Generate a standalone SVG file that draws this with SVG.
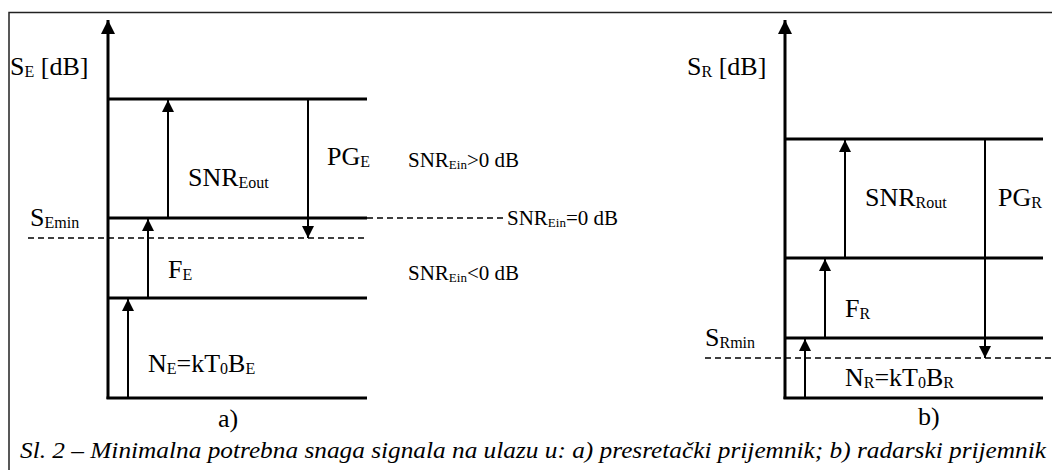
<svg xmlns="http://www.w3.org/2000/svg" width="1052" height="470" viewBox="0 0 1052 470">
<style>
.frame{stroke:#222;stroke-width:1.5;fill:none}
.axis{stroke:#000;stroke-width:3;fill:none}
.lvl{stroke:#000;stroke-width:3;fill:none}
.dash{stroke:#000;stroke-width:1.5;stroke-dasharray:6,4;fill:none}
.arr{stroke:#000;stroke-width:2;fill:none}
.big{font-size:26px}
.mid{font-size:21px}
.cap{font-size:23px;font-style:italic}
</style>
<defs>
<marker id="ah" markerUnits="userSpaceOnUse" markerWidth="12" markerHeight="14" refX="12" refY="6" orient="auto">
<path d="M0,0 L12,6 L0,12 Z" fill="#000"/>
</marker>
<marker id="axh" markerUnits="userSpaceOnUse" markerWidth="14" markerHeight="14" refX="14" refY="7" orient="auto">
<path d="M0,0 L14,7 L0,14 Z" fill="#000"/>
</marker>
</defs>
<rect width="1052" height="470" fill="#fff"/>
<path class="frame" d="M9,470 V12.5 H1052"/>
<g font-family="'Liberation Serif', 'Times New Roman', Tinos, serif" fill="#000">
<g id="panel-a">
<g id="axis-a"><line class="axis" x1="108" y1="399" x2="108" y2="20" marker-end="url(#axh)"/></g>
<g id="levels-a">
<line class="lvl" x1="108" y1="99" x2="367" y2="99"/>
<line class="lvl" x1="108" y1="218" x2="367" y2="218"/>
<line class="lvl" x1="108" y1="298" x2="367" y2="298"/>
<line class="lvl" x1="106.5" y1="398" x2="367" y2="398"/>
<line class="dash" x1="367" y1="218" x2="505" y2="218"/>
<line class="dash" x1="28" y1="238" x2="367" y2="238"/>
</g>
<g id="labels-a">
<text class="big" x="10" y="75">S<tspan font-size="16" dy="2">E</tspan><tspan dy="-2"> [dB]</tspan></text>
<text class="big" x="188" y="186">SNR<tspan font-size="16" dy="2">Eout</tspan></text>
<text class="big" x="327" y="165">PG<tspan font-size="16" dy="2">E</tspan></text>
<text class="big" x="30" y="226">S<tspan font-size="16" dy="2">Emin</tspan></text>
<text class="big" x="168" y="278">F<tspan font-size="16" dy="2">E</tspan></text>
<text class="big" x="148" y="372">N<tspan font-size="16" dy="2">E</tspan><tspan dy="-2">=kT</tspan><tspan font-size="16" dy="2">0</tspan><tspan dy="-2">B</tspan><tspan font-size="16" dy="2">E</tspan></text>
<text class="big" x="218" y="427">a)</text>
<text class="mid" x="408" y="167">SNR<tspan font-size="13" dy="2">Ein</tspan><tspan dy="-2">&gt;0 dB</tspan></text>
<text class="mid" x="507" y="225">SNR<tspan font-size="13" dy="2">Ein</tspan><tspan dy="-2">=0 dB</tspan></text>
<text class="mid" x="408" y="280">SNR<tspan font-size="13" dy="2">Ein</tspan><tspan dy="-2">&lt;0 dB</tspan></text>
</g>
</g>

<g id="panel-b">
<g id="axis-b"><line class="axis" x1="785" y1="399" x2="785" y2="20" marker-end="url(#axh)"/></g>
<g id="levels-b">
<line class="lvl" x1="785" y1="139" x2="1043" y2="139"/>
<line class="lvl" x1="785" y1="258" x2="1043" y2="258"/>
<line class="lvl" x1="785" y1="338" x2="1043" y2="338"/>
<line class="lvl" x1="783.5" y1="398" x2="1043" y2="398"/>
<line class="dash" x1="705" y1="358" x2="1052" y2="358"/>
</g>
<g id="labels-b">
<text class="big" x="687" y="75">S<tspan font-size="16" dy="2">R</tspan><tspan dy="-2"> [dB]</tspan></text>
<text class="big" x="865" y="206">SNR<tspan font-size="16" dy="2">Rout</tspan></text>
<text class="big" x="998" y="206">PG<tspan font-size="16" dy="2">R</tspan></text>
<text class="big" x="845" y="317">F<tspan font-size="16" dy="2">R</tspan></text>
<text class="big" x="705" y="346">S<tspan font-size="16" dy="2">Rmin</tspan></text>
<text class="big" x="845" y="386">N<tspan font-size="16" dy="2">R</tspan><tspan dy="-2">=kT</tspan><tspan font-size="16" dy="2">0</tspan><tspan dy="-2">B</tspan><tspan font-size="16" dy="2">R</tspan></text>
<text class="big" x="918" y="425">b)</text>
</g>
</g>

<g id="connectors">
<line class="arr" x1="168" y1="218" x2="168" y2="100" marker-end="url(#ah)"/>
<line class="arr" x1="308" y1="99" x2="308" y2="238" marker-end="url(#ah)"/>
<line class="arr" x1="148" y1="298" x2="148" y2="219" marker-end="url(#ah)"/>
<line class="arr" x1="128" y1="398" x2="128" y2="299" marker-end="url(#ah)"/>
<line class="arr" x1="845" y1="258" x2="845" y2="140" marker-end="url(#ah)"/>
<line class="arr" x1="985" y1="139" x2="985" y2="358" marker-end="url(#ah)"/>
<line class="arr" x1="825" y1="338" x2="825" y2="259" marker-end="url(#ah)"/>
<line class="arr" x1="805" y1="398" x2="805" y2="339" marker-end="url(#ah)"/>
</g>

<g id="caption">
<text class="cap" x="20" y="458" textLength="1026" lengthAdjust="spacingAndGlyphs">Sl. 2 – Minimalna potrebna snaga signala na ulazu u: a) presretački prijemnik; b) radarski prijemnik</text>
</g>
</g>
</svg>
